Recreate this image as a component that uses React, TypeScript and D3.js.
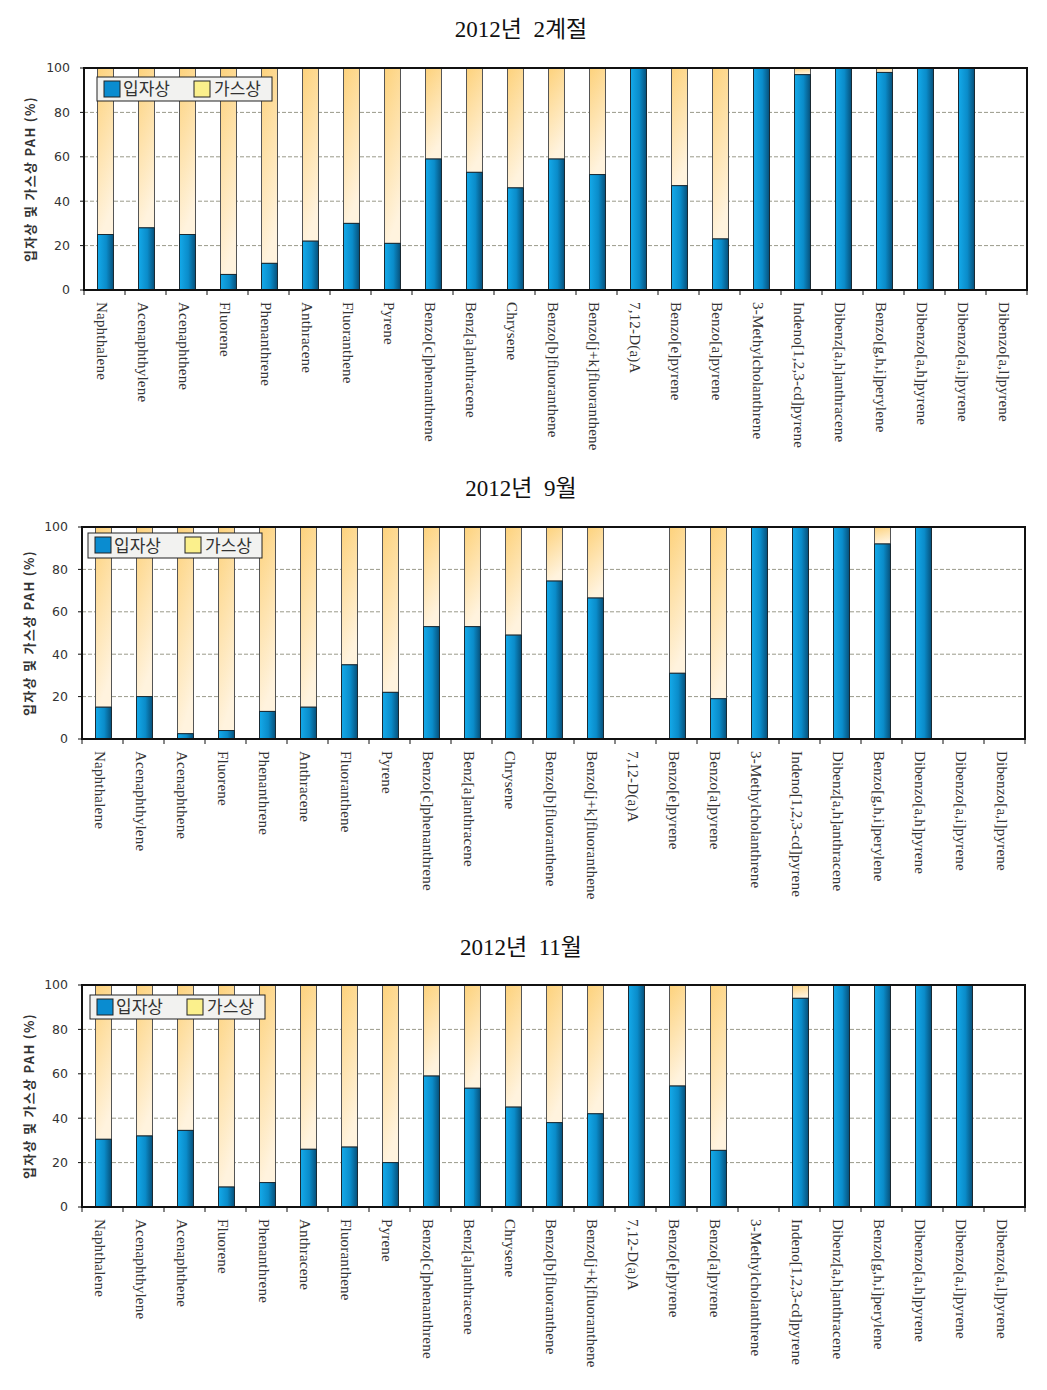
import React from "react";
import * as d3 from "d3";

const categories = [
  "Naphthalene", "Acenaphthylene", "Acenaphthene", "Fluorene", "Phenanthrene",
  "Anthracene", "Fluoranthene", "Pyrene", "Benzo[c]phenanthrene", "Benz[a]anthracene",
  "Chrysene", "Benzo[b]fluoranthene", "Benzo[j+k]fluoranthene", "7,12-D(a)A",
  "Benzo[e]pyrene", "Benzo[a]pyrene", "3-Methylcholanthrene", "Indeno[1,2,3-cd]pyrene",
  "Dibenz[a,h]anthracene", "Benzo[g,h,i]perylene", "Dibenzo[a,h]pyrene",
  "Dibenzo[a,i]pyrene", "Dibenzo[a,l]pyrene",
];

const particleFeb = [25, 28, 25, 7, 12, 22, 30, 21, 59, 53, 46, 59, 52, 100, 47, 23, 100, 97, 100, 98, 100, 100, null];
const gasFeb = [75, 72, 75, 93, 88, 78, 70, 79, 41, 47, 54, 41, 48, 0, 53, 77, 0, 3, 0, 2, 0, 0, null];

const particleSep = [15, 20, 2.5, 4, 13, 15, 35, 22, 53, 53, 49, 74.5, 66.5, null, 31, 19, 100, 100, 100, 92, 100, null, null];
const gasSep = [85, 80, 97.5, 96, 87, 85, 65, 78, 47, 47, 51, 25.5, 33.5, null, 69, 81, 0, 0, 0, 8, 0, null, null];

const particleNov = [30.5, 32, 34.5, 9, 11, 26, 27, 20, 59, 53.5, 45, 38, 42, 100, 54.5, 25.5, null, 94, 100, 100, 100, 100, null];
const gasNov = [69.5, 68, 65.5, 91, 89, 74, 73, 80, 41, 46.5, 55, 62, 58, 0, 45.5, 74.5, null, 6, 0, 0, 0, 0, null];

const yTicks = [0, 20, 40, 60, 80, 100];
const titles = ["2012년  2계절", "2012년  9월", "2012년  11월"];
const legendLabels = ["입자상", "가스상"];
const yAxisTitle = "입자상 및 가스상 PAH (%)";

type Layout = {
  titleY: number; left: number; right: number; top: number; bottom: number;
  legX: number; legY: number; legW: number; legH: number; yTitleX: number;
};

const layouts: Layout[] = [
  { titleY: 37, left: 84, right: 1027, top: 68, bottom: 290, legX: 97, legY: 77, legW: 175, legH: 24, yTitleX: 30 },
  { titleY: 496, left: 82, right: 1025, top: 527, bottom: 739, legX: 88, legY: 533, legW: 174, legH: 25, yTitleX: 29 },
  { titleY: 955, left: 82, right: 1025, top: 985, bottom: 1207, legX: 90, legY: 995, legW: 175, legH: 24, yTitleX: 29 },
];

const serif = "'Liberation Serif', 'Times New Roman', 'Noto Sans CJK KR', serif";
const sans = "'DejaVu Sans', Verdana, sans-serif";
const kr = "'Noto Sans CJK KR', sans-serif";

function Chart({ idx, particle, gas }: { idx: number; particle: (number | null)[]; gas: (number | null)[] }) {
  const L = layouts[idx];
  const x = d3.scaleBand<string>().domain(categories).range([L.left, L.right]).paddingInner(0).paddingOuter(0);
  const y = d3.scaleLinear().domain([0, 100]).range([L.bottom, L.top]);
  const step = x.step();
  const bw = step * 0.39;
  const cx = (c: string) => (x(c) as number) + step / 2;
  return (
    <g>
      <text x={521} y={L.titleY} textAnchor="middle" fontFamily={serif} fontSize={23} fill="#111" style={{ whiteSpace: "pre" }}>
        {titles[idx]}
      </text>
      {yTicks.filter((t) => t > 0 && t < 100).map((t) => (
        <line key={t} x1={L.left} x2={L.right} y1={y(t)} y2={y(t)} stroke="#9a9a8a" strokeWidth={1} strokeDasharray="4,2" />
      ))}
      {categories.map((c, i) => {
        const p = particle[i];
        const g = gas[i];
        if (p === null || g === null) return null;
        const bx = cx(c) - bw / 2 + 1;
        return (
          <g key={c}>
            {g > 0 && (
              <rect x={bx} y={y(p + g)} width={bw} height={y(p) - y(p + g)} fill="url(#yelGrad)" stroke="#555" strokeWidth={1} />
            )}
            {p > 0 && (
              <rect x={bx} y={y(p)} width={bw} height={y(0) - y(p)} fill="url(#blueGrad)" stroke="#1a2a33" strokeWidth={1} />
            )}
          </g>
        );
      })}
      <rect x={L.left} y={L.top} width={L.right - L.left} height={L.bottom - L.top} fill="none" stroke="#111" strokeWidth={2} />
      {yTicks.map((t) => (
        <g key={t}>
          <line x1={L.left - 4} x2={L.left} y1={y(t)} y2={y(t)} stroke="#111" strokeWidth={1} />
          <text x={L.left - 14} y={y(t)} dy="0.35em" textAnchor="end" fontFamily={sans} fontSize={12.5} fill="#333">
            {t}
          </text>
        </g>
      ))}
      {d3.range(categories.length + 1).map((k) => (
        <line key={k} x1={L.left + k * step} x2={L.left + k * step} y1={L.bottom} y2={L.bottom + 5} stroke="#111" strokeWidth={1} />
      ))}
      {categories.map((c) => (
        <text key={c} transform={`translate(${cx(c) - 2},${L.bottom + 12}) rotate(90)`} dy="0.35em" textAnchor="start" fontFamily={serif} fontSize={15} letterSpacing={0.2} fill="#333">
          {c}
        </text>
      ))}
      <text transform={`translate(${L.yTitleX},${(L.top + L.bottom) / 2}) rotate(-90)`} dy="0.35em" textAnchor="middle" fontFamily={kr} fontWeight="bold" fontSize={13} letterSpacing={1.3} fill="#333">
        {yAxisTitle}
      </text>
      <rect x={L.legX} y={L.legY} width={L.legW} height={L.legH} fill="#f2f2f0" stroke="#222" strokeWidth={1} />
      <rect x={L.legX + 7} y={L.legY + 4} width={16} height={16} fill="#0a8cd0" stroke="#222" strokeWidth={1} />
      <text x={L.legX + 26} y={L.legY + L.legH / 2} dy="0.36em" fontFamily={kr} fontSize={17} fill="#333">
        {legendLabels[0]}
      </text>
      <rect x={L.legX + 97} y={L.legY + 4} width={16} height={16} fill="#fbf08c" stroke="#222" strokeWidth={1} />
      <text x={L.legX + 117} y={L.legY + L.legH / 2} dy="0.36em" fontFamily={kr} fontSize={17} fill="#333">
        {legendLabels[1]}
      </text>
    </g>
  );
}

export default function App() {
  return (
    <svg width={1047} height={1390} style={{ position: "absolute", left: 0, top: 0, background: "#fff" }}>
      <defs>
        <linearGradient id="blueGrad" x1="0" y1="0" x2="1" y2="0">
          <stop offset="0%" stopColor="#14aaea" />
          <stop offset="55%" stopColor="#0a8cca" />
          <stop offset="100%" stopColor="#07507a" />
        </linearGradient>
        <linearGradient id="yelGrad" x1="0" y1="0" x2="0.25" y2="1">
          <stop offset="0%" stopColor="#fdd27c" />
          <stop offset="100%" stopColor="#fff3de" />
        </linearGradient>
      </defs>
      <rect width={1047} height={1390} fill="#fff" />
      <Chart idx={0} particle={particleFeb} gas={gasFeb} />
      <Chart idx={1} particle={particleSep} gas={gasSep} />
      <Chart idx={2} particle={particleNov} gas={gasNov} />
    </svg>
  );
}
